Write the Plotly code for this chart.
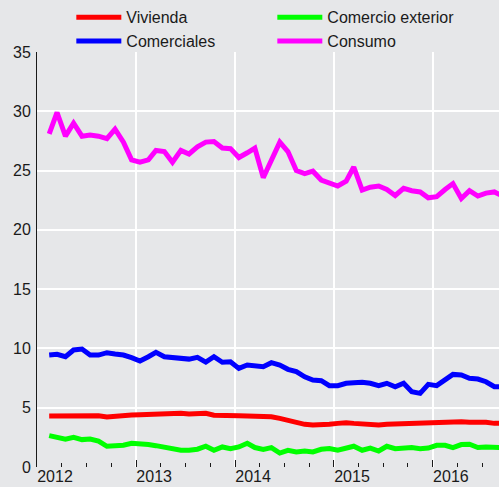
import pandas as pd
import plotly.graph_objects as go

months = pd.date_range("2012-01-15", periods=56, freq="MS") + pd.Timedelta(days=14)

vivienda = [4.30, 4.30, 4.30, 4.36, 4.36, 4.30, 4.33, 4.22, 4.30, 4.33,
            4.38, 4.41, 4.44, 4.53, 4.53, 4.53, 4.53, 4.47, 4.47, 4.53,
            4.36, 4.38, 4.36, 4.33, 4.30, 4.30, 4.30, 4.24, 4.10, 3.91,
            3.82, 3.60, 3.54, 3.54, 3.60, 3.68, 3.74, 3.68, 3.60, 3.54,
            3.54, 3.60, 3.63, 3.63, 3.63, 3.63, 3.68, 3.74, 3.79, 3.82,
            3.82, 3.77, 3.82, 3.77, 3.68, 3.68]

comerciales = [9.44, 9.50, 9.30, 9.87, 9.95, 9.44, 9.44, 9.64, 9.53, 9.44,
               9.22, 8.94, 9.30, 9.67, 9.30, 9.25, 9.22, 9.10, 9.25, 8.85,
               9.30, 8.83, 8.88, 8.32, 8.60, 8.54, 8.46, 8.80, 8.60, 8.24,
               8.04, 7.61, 7.34, 7.28, 6.86, 6.86, 7.06, 7.11, 7.14, 7.06,
               6.86, 7.06, 6.77, 7.06, 6.35, 6.21, 6.97, 6.86, 7.34, 7.81,
               7.76, 7.48, 7.42, 7.19, 6.77, 6.77]

comercio_exterior = [2.65, 2.48, 2.34, 2.50, 2.31, 2.36, 2.19, 1.75, 1.80, 1.83,
                     2.00, 1.98, 1.90, 1.80, 1.66, 1.50, 1.41, 1.41, 1.50, 1.75,
                     1.41, 1.69, 1.55, 1.69, 2.00, 1.64, 1.49, 1.64, 1.18, 1.41,
                     1.27, 1.35, 1.27, 1.49, 1.55, 1.41, 1.64, 1.75, 1.41, 1.60,
                     1.35, 1.75, 1.55, 1.64, 1.64, 1.55, 1.60, 1.83, 1.83, 1.64,
                     1.89, 1.92, 1.64, 1.69, 1.69, 1.64]

consumo = [28.1, 29.9, 27.9, 29.0, 27.9, 28.0, 27.9, 27.7, 28.5, 27.4,
           25.9, 25.7, 25.9, 26.7, 26.6, 25.7, 26.7, 26.4, 27.0, 27.4,
           27.45, 26.9, 26.85, 26.1, 26.5, 26.9, 24.4, 26.0, 27.4, 26.6,
           25.0, 24.75, 24.95, 24.2, 24.0, 23.7, 24.1, 25.3, 23.35, 23.6,
           23.7, 23.4, 22.9, 23.5, 23.3, 23.2, 22.7, 22.8, 23.4, 23.9,
           22.65, 23.3, 22.85, 23.1, 23.2, 22.85]

series = [
    ("Vivienda", vivienda, "#ff0000"),
    ("Comercio exterior", comercio_exterior, "#00ff00"),
    ("Comerciales", comerciales, "#0000ff"),
    ("Consumo", consumo, "#ff00ff"),
]

FONT = "Liberation Sans, Arial, sans-serif"
BG = "#e6e7e9"

fig = go.Figure()
for name, vals, color in series:
    fig.add_trace(go.Scatter(x=months, y=vals, mode="lines", name=name,
                             line=dict(color=color, width=5)))

fig.update_layout(
    width=499, height=487,
    margin=dict(l=37, r=0, t=52, b=20, autoexpand=False),
    paper_bgcolor=BG, plot_bgcolor=BG,
    font=dict(family=FONT, size=16, color="#1a1a1a"),
    showlegend=True,
    legend=dict(orientation="h", x=0.0743, xanchor="left", y=1.1245, yanchor="top",
                entrywidth=141, entrywidthmode="pixels", itemwidth=45,
                bgcolor="rgba(0,0,0,0)", font=dict(size=16),
                tracegroupgap=0),
    xaxis=dict(type="date", range=["2012-01-01", "2016-09-01"],
               tick0="2012-01-01", dtick="M12", tickformat="%Y",
               ticks="inside", ticklen=7, tickcolor="#1a1a1a", tickwidth=1,
               ticklabelshift=18, ticklabelstandoff=-2, automargin=False,
               showgrid=True, gridcolor="white", gridwidth=1.5,
               showline=False, zeroline=False,
               minor=dict(dtick="M3", ticks="inside", ticklen=4,
                          tickcolor="#1a1a1a", showgrid=False)),
    yaxis=dict(range=[0, 35], dtick=5, tick0=0, automargin=False,
               showgrid=True, gridcolor="white", gridwidth=1.5,
               showline=True, linecolor="#1a1a1a", linewidth=1,
               ticks="", ticklabelstandoff=2, zeroline=False),
)

fig.write_html("out.html", post_script="document.body.style.margin='0';",
               config={"displayModeBar": False})
